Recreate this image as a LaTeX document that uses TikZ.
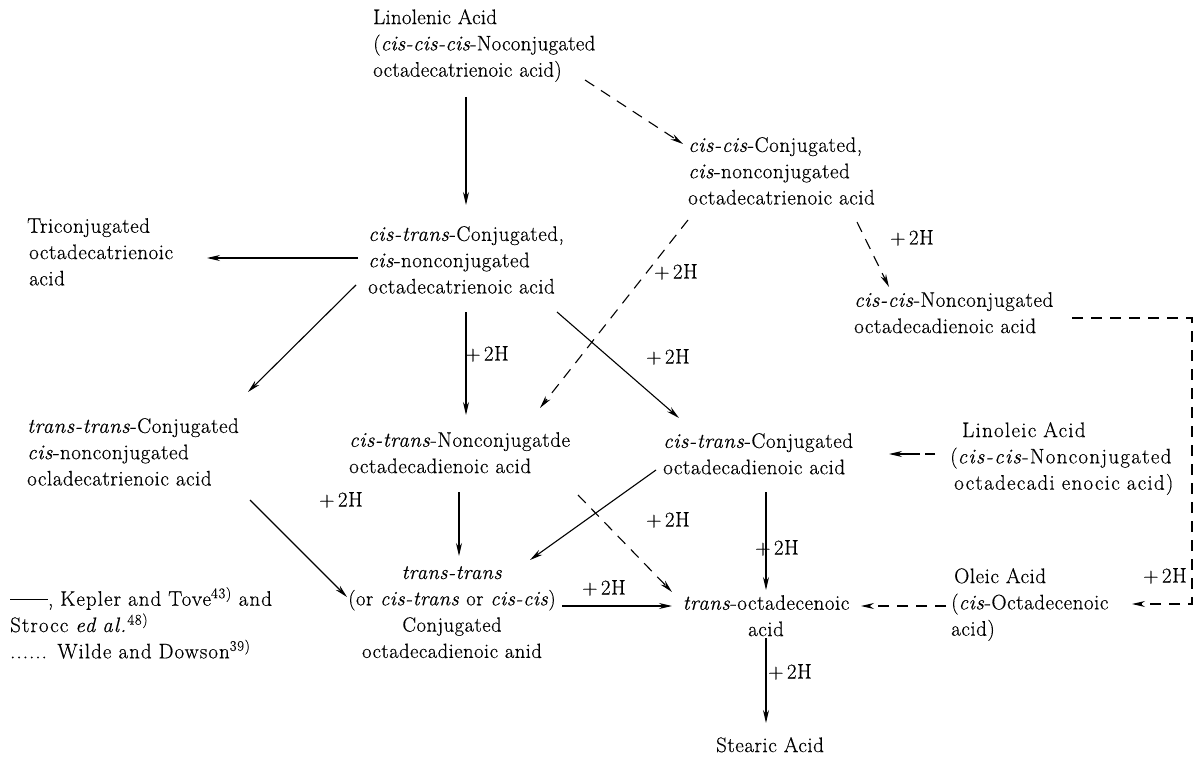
\documentclass[tikz,border=0pt]{standalone}
\usepackage{fontspec}
\setmainfont{Latin Modern Roman}[LetterSpace=2.5,FakeBold=0.4]
\usetikzlibrary{arrows.meta,calc}
\begin{document}
\begin{tikzpicture}[x=1pt,y=-1pt,
  cmp/.style={inner sep=0pt,text width=330pt,align=left,anchor=north west,font=\fontsize{21}{26.3}\selectfont},
  cmpc/.style={inner sep=0pt,text width=330pt,align=center,anchor=north,font=\fontsize{21}{26.3}\selectfont},
  hh/.style={inner sep=0pt,font=\fontsize{21}{26.3}\selectfont},
  arr/.style={line width=1.1pt,-{Stealth[length=13pt,width=6pt]}},
  darr/.style={arr,dash pattern=on 11pt off 8pt}]
\useasboundingbox (0,0) rectangle (1200,757);
\node[cmp,font=\fontsize{21}{26.3}\selectfont\addfontfeatures{LetterSpace=1}] (L1) at (373,9) {Linolenic Acid\\(\textit{cis-cis-cis}-Noconjugated\\octadecatrienoic acid)};
\node[cmp] (L2) at (688,137) {\textit{cis-cis}-Conjugated,\\\textit{cis}-nonconjugated\\octadecatrienoic acid};
\node[cmp] (L3) at (27,218) {Triconjugated\\\hspace*{2pt}octadecatrienoic\\\hspace*{2pt}acid};
\node[cmp] (L4) at (368,226) {\textit{cis-trans}-Conjugated,\\\textit{cis}-nonconjugated\\octadecatrienoic acid};
\node[cmp] (L5) at (854,292) {\textit{cis-cis}-Nonconjugated\\octadecadienoic acid};
\node[cmp] (L6) at (27,418) {\textit{trans-trans}-Conjugated\\\textit{cis}-nonconjugated\\ocladecatrienoic acid};
\node[cmp] (L7) at (349,432) {\textit{cis-trans}-Nonconjugatde\\octadecadienoic acid};
\node[cmp] (L8) at (663,433) {\textit{cis-trans}-Conjugated\\octadecadienoic acid};
\node[cmp,font=\fontsize{21}{26.3}\selectfont\addfontfeatures{LetterSpace=6}] (L9) at (950,422) {\hspace*{12pt}Linoleic Acid\\(\textit{cis-cis}-Nonconjugated\\\hspace*{4pt}octadecadi enocic acid)};
\node[cmpc,font=\fontsize{20.5}{26.3}\selectfont] (L10) at (452,566) {\textit{trans-trans}\\(or \textit{cis-trans} or \textit{cis-cis})\\Conjugated\\octadecadienoic anid};
\node[cmpc] (L11) at (766,595) {\textit{trans}-octadecenoic\\acid};
\node[cmp] (L12) at (951,568) {\hspace*{3pt}Oleic Acid\\(\textit{cis}-Octadecenoic\\acid)};
\node[cmpc] (L13) at (770,737) {Stearic Acid};
\node[cmp,font=\fontsize{21}{26.3}\selectfont\addfontfeatures{LetterSpace=5}] (LG) at (10,587) {\rule[0.3em]{1.8em}{0.8pt}, Kepler and Tove\textsuperscript{43)} and\\Strocc \textit{ed al.}\textsuperscript{48)}\\...... Wilde and Dowson\textsuperscript{39)}};
% connectors
\draw[arr] ($(L1.north west)+(93,88)$) -- ($(L4.north west)+(98,-21)$);
\draw[darr] ($(L1.north west)+(212,71)$) -- ($(L2.north west)+(-5,7)$);
\draw[arr] ($(L4.north west)+(-10,32)$) -- ($(L3.north west)+(180,40)$);
\draw[darr] ($(L2.north west)+(0,83)$) -- ($(L7.north west)+(191,-24)$);
\draw[darr] ($(L2.north west)+(169,85)$) -- ($(L5.north west)+(35,-5)$);
\draw[arr] ($(L4.north west)+(-12,59)$) -- ($(L6.north west)+(221,-26)$);
\draw[arr] ($(L4.north west)+(98,86)$) -- ($(L7.north west)+(117,-17)$);
\draw[arr] ($(L4.north west)+(189,86)$) -- ($(L8.north west)+(16,-15)$);
\draw[arr,dash pattern=on 10pt off 5pt on 40pt] ($(L9.north west)+(-15,32)$) -- ($(L8.north west)+(226,21)$);
\draw[darr] ($(L5.north west)+(218,26)$) -| (1192,604) -- ($(L12.north west)+(181,36)$);
\draw[arr] ($(L6.north west)+(223,82)$) -- ($(L10.north)+(-105,31)$);
\draw[arr] ($(L7.north west)+(110,60)$) -- ($(L10.north)+(7,-10)$);
\draw[arr] ($(L8.north west)+(-7,37)$) -- ($(L10.north)+(78,-6)$);
\draw[darr] ($(L7.north west)+(229,63)$) -- ($(L11.north)+(-94,-3)$);
\draw[arr] ($(L8.north west)+(103,59)$) -- ($(L11.north)+(0,-5)$);
\draw[arr] ($(L10.north)+(110,40)$) -- ($(L11.north)+(-94,11)$);
\draw[darr] ($(L12.north west)+(-5,38)$) -- ($(L11.north)+(95,11)$);
\draw[arr] ($(L11.north)+(0,43)$) -- ($(L13.north)+(-4,-14)$);
% labels
\node[hh] (h1) at (676,272) {+\,2H};
\node[hh] (h2) at (912,238) {+\,2H};
\node[hh] (h3) at (487,354) {+\,2H};
\node[hh] (h4) at (668,357) {+\,2H};
\node[hh] (h5) at (341,500) {+\,2H};
\node[hh] (h6) at (668,520) {+\,2H};
\node[hh] (h7) at (604,588) {+\,2H};
\node[hh] (h8) at (777,548) {+\,2H};
\node[hh] (h9) at (1165,576) {+\,2H};
\node[hh] (h10) at (790,672) {+\,2H};
\end{tikzpicture}
\end{document}
